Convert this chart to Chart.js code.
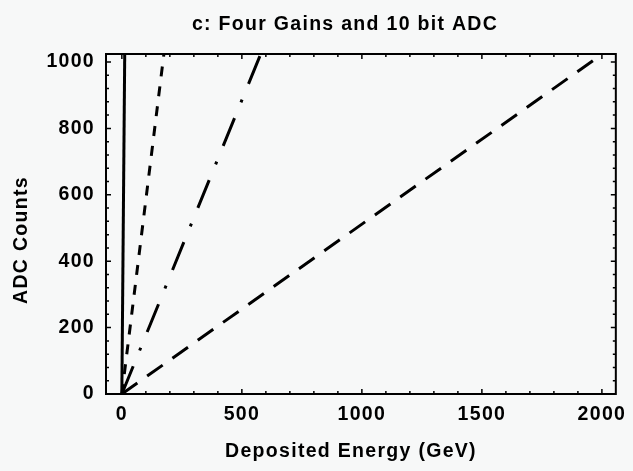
<!DOCTYPE html>
<html><head><meta charset="utf-8">
<script src="https://cdn.jsdelivr.net/npm/chart.js@4/dist/chart.umd.min.js"></script>
<style>html,body{margin:0;padding:0;background:#f7f8f8;}#wrap{width:633px;height:471px;}</style>
</head><body><div id="wrap"><canvas id="c" width="633" height="471"></canvas></div>
<script>
// ---- text ----
const chartTitle = 'c: Four Gains and 10 bit ADC';
const xAxisTitle = 'Deposited Energy (GeV)';
const yAxisTitle = 'ADC Counts';
// ---- tick labels ----
const xTickValues = [0, 500, 1000, 1500, 2000];
const yTickValues = [0, 200, 400, 600, 800, 1000];
// ---- series (deposited energy in GeV -> ADC counts) ----
const gain1Energy = [0, 12];
const gain1Counts = [0, 1023];
const gain2Energy = [0, 175];
const gain2Counts = [0, 1023];
const gain3Energy = [0, 578];
const gain3Counts = [0, 1023];
const gain4Energy = [0, 2000];
const gain4Counts = [0, 1023];

const FONT = '"Liberation Sans", Arial, Helvetica, sans-serif';
const FSIZE = 19.5;
const SPACING = '1.3px';
const toPts = (xs, ys) => xs.map((x, i) => ({x: x, y: ys[i]}));

function lineDs(label, xs, ys, dash) {
  return {
    label: label, data: toPts(xs, ys), showLine: true,
    borderColor: '#000', borderWidth: 3, borderDash: dash, borderCapStyle: 'butt',
    pointRadius: 0, pointHoverRadius: 0, fill: false, tension: 0, clip: 0
  };
}

const decor = {
  id: 'decor',
  beforeDraw(chart) {
    chart.ctx.letterSpacing = SPACING;
  },
  afterDatasetsDraw(chart) {
    const ctx = chart.ctx, a = chart.chartArea;
    const xs = chart.scales.x, ys = chart.scales.y;
    ctx.save();
    ctx.strokeStyle = '#000';
    ctx.lineWidth = 2;
    ctx.strokeRect(a.left, a.top, a.right - a.left, a.bottom - a.top);
    ctx.lineWidth = 1.5;
    ctx.beginPath();
    for (let v = 0; v <= 2000; v += 100) {
      const p = xs.getPixelForValue(v);
      const L = (v % 500 === 0) ? 5 : 3;
      ctx.moveTo(p, a.bottom); ctx.lineTo(p, a.bottom - L);
      ctx.moveTo(p, a.top); ctx.lineTo(p, a.top + L);
    }
    for (let v = 0; v <= 1000; v += 40) {
      const p = ys.getPixelForValue(v);
      const L = (v % 200 === 0) ? 5 : 3;
      ctx.moveTo(a.left, p); ctx.lineTo(a.left + L, p);
      ctx.moveTo(a.right, p); ctx.lineTo(a.right - L, p);
    }
    ctx.stroke();
    ctx.fillStyle = '#000';
    ctx.letterSpacing = SPACING;
    ctx.textAlign = 'center';
    ctx.textBaseline = 'alphabetic';
    ctx.font = 'bold ' + FSIZE + 'px ' + FONT;
    ctx.fillText(chartTitle, 345, 30);
    ctx.fillText(xAxisTitle, 351, 457);
    ctx.translate(27, 240);
    ctx.rotate(-Math.PI / 2);
    ctx.fillText(yAxisTitle, 0, 0);
    ctx.restore();
  }
};

new Chart(document.getElementById('c'), {
  type: 'scatter',
  data: {
    datasets: [
      lineDs('Gain 1', gain1Energy, gain1Counts, []),
      lineDs('Gain 2', gain2Energy, gain2Counts, [10, 10]),
      lineDs('Gain 3', gain3Energy, gain3Counts, [30, 17, 3, 17]),
      lineDs('Gain 4', gain4Energy, gain4Counts, [19, 12])
    ]
  },
  options: {
    responsive: false, animation: false, devicePixelRatio: 1,
    layout: {padding: {left: 0, top: 54, right: 15, bottom: 0}},
    plugins: {legend: {display: false}, title: {display: false}, tooltip: {enabled: false}},
    events: [],
    scales: {
      x: {
        type: 'linear', min: -66, max: 2058,
        afterFit: s => { s.height = 77; },
        afterBuildTicks: s => { s.ticks = xTickValues.map(v => ({value: v})); },
        grid: {display: false, drawTicks: false},
        border: {display: false},
        ticks: {color: '#000', font: {family: FONT, size: FSIZE, weight: 'bold'}, padding: 9, maxRotation: 0, autoSkip: false,
                callback: v => String(v)}
      },
      y: {
        type: 'linear', min: 0, max: 1024,
        afterFit: s => { s.width = 106; },
        afterBuildTicks: s => { s.ticks = yTickValues.map(v => ({value: v})); },
        grid: {display: false, drawTicks: false},
        border: {display: false},
        ticks: {color: '#000', font: {family: FONT, size: FSIZE, weight: 'bold'}, padding: 11, autoSkip: false,
                callback: v => String(v)}
      }
    }
  },
  plugins: [decor]
});
</script>
</body></html>
